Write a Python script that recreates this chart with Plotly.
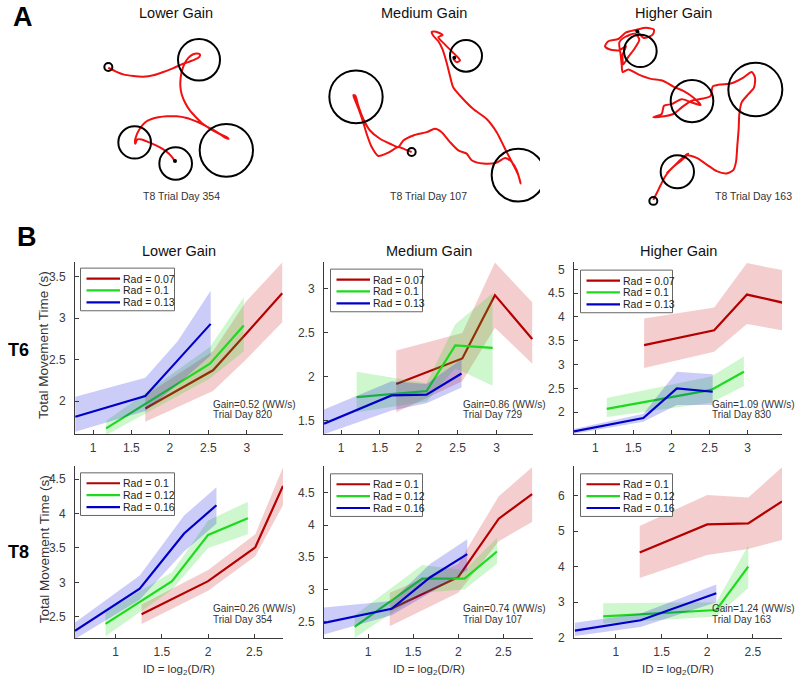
import plotly.graph_objects as go

W, H = 800, 687
def fx(p): return p / W
def fy(p): return 1 - p / H

# ---------------- Panel A data (workspace units) ----------------
a_titles = ["Lower Gain", "Medium Gain", "Higher Gain"]
a_days = ["T8 Trial Day 354", "T8 Trial Day 107", "T8 Trial Day 163"]

a1_cx = [325, 597, 679, 404, 527]
a1_cy = [203, 181, 455, 431, 495]
a1_r = [12, 63, 80, 49, 49]
a1_dot = (525, 487)
a1_tx = [325, 345, 370, 400, 430, 460, 490, 520, 545, 565, 585, 598, 600, 592, 578, 565, 555, 547, 542, 541, 545, 555, 570, 588, 605, 625, 645, 665, 682, 686, 678, 660, 640, 615, 590, 560, 530, 500, 475, 455, 440, 428, 418, 410, 405, 406, 412, 425, 445, 468, 490, 507, 518, 524]
a1_ty = [205, 215, 225, 230, 232, 228, 218, 206, 195, 188, 180, 172, 165, 162, 165, 175, 190, 210, 235, 260, 285, 310, 335, 355, 372, 386, 398, 408, 416, 420, 418, 406, 393, 380, 368, 357, 352, 352, 355, 360, 367, 378, 392, 408, 425, 435, 422, 422, 430, 440, 452, 465, 478, 488]

a2_cx = [425, 258, 588, 745]
a2_cy = [460, 293, 169, 530]
a2_r = [12, 80, 48, 80]
a2_dot = (553, 175)
a2_tx = [425, 405, 385, 355, 325, 305, 290, 278, 266, 256, 250, 256, 265, 280, 300, 330, 360, 385, 400, 430, 470, 495, 515, 540, 565, 590, 605, 640, 680, 705, 725, 740, 752, 745, 728, 705, 680, 650, 610, 575, 550, 540, 530, 518, 505, 490, 485, 498, 518, 505, 525, 548, 565, 570, 560, 550]
a2_ty = [460, 452, 445, 462, 472, 445, 405, 365, 330, 305, 288, 290, 320, 360, 395, 420, 435, 445, 425, 410, 400, 390, 400, 430, 455, 465, 485, 495, 492, 478, 490, 515, 555, 530, 495, 450, 400, 360, 330, 295, 265, 230, 190, 150, 125, 108, 97, 96, 106, 112, 135, 158, 175, 183, 188, 178]

a3_cx = [340, 301, 456, 646, 412]
a3_cy = [608, 154, 306, 271, 520]
a3_r = [12, 49, 64, 81, 50]
a3_dot = (292, 95)
a3_tx = [340, 350, 362, 375, 390, 410, 430, 445, 425, 400, 380, 395, 415, 440, 470, 500, 530, 560, 580, 588, 592, 596, 598, 605, 625, 642, 645, 635, 610, 575, 540, 518, 512, 490, 455, 425, 400, 372, 340, 365, 372, 395, 425, 455, 482, 460, 430, 400, 370, 330, 295, 265, 248, 245, 242, 238, 255, 285, 298, 285, 265, 250, 248, 258, 238, 210, 195, 205, 235, 258, 290, 318, 342, 338, 312, 298, 292]
a3_ty = [605, 585, 560, 535, 515, 495, 475, 465, 485, 505, 525, 510, 490, 470, 478, 498, 518, 525, 515, 490, 440, 390, 345, 310, 285, 265, 235, 218, 235, 252, 256, 262, 290, 298, 305, 325, 345, 352, 355, 345, 320, 315, 300, 310, 318, 295, 275, 262, 245, 238, 225, 210, 218, 195, 165, 128, 112, 102, 120, 145, 172, 195, 165, 140, 152, 150, 140, 125, 118, 98, 90, 84, 90, 105, 115, 102, 95]

# ---------------- Panel B data ----------------
row_names = ["T6", "T8"]
col_titles = ["Lower Gain", "Medium Gain", "Higher Gain"]
rad_labels = [["Rad = 0.07", "Rad = 0.1", "Rad = 0.13"],
              ["Rad = 0.1", "Rad = 0.12", "Rad = 0.16"]]
gains = [[0.52, 0.86, 1.09], [0.26, 0.74, 1.24]]
days = [[820, 729, 830], [354, 107, 163]]

# T6 Lower
t6l_red_x = [1.68, 2.56, 2.99, 3.46]; t6l_red_y = [1.91, 2.37, 2.81, 3.30]
t6l_red_lo = [1.75, 2.12, 2.50, 2.95]; t6l_red_hi = [2.07, 2.60, 3.20, 3.67]
t6l_grn_x = [1.17, 2.52, 2.96]; t6l_grn_y = [1.67, 2.45, 2.91]
t6l_grn_lo = [1.59, 2.27, 2.60]; t6l_grn_hi = [1.76, 2.65, 3.25]
t6l_blu_x = [0.77, 1.68, 2.10, 2.53]; t6l_blu_y = [1.81, 2.06, 2.49, 2.93]
t6l_blu_lo = [1.63, 1.88, 2.20, 2.55]; t6l_blu_hi = [2.05, 2.28, 2.72, 3.33]
# T6 Medium
t6m_red_x = [1.71, 2.56, 2.98, 3.46]; t6m_red_y = [1.92, 2.21, 2.93, 2.43]
t6m_red_lo = [1.60, 1.95, 2.56, 2.15]; t6m_red_hi = [2.30, 2.50, 3.30, 2.85]
t6m_grn_x = [1.20, 2.10, 2.47, 2.95]; t6m_grn_y = [1.77, 1.84, 2.36, 2.33]
t6m_grn_lo = [1.60, 1.72, 2.10, 1.90]; t6m_grn_hi = [2.06, 1.93, 2.60, 2.95]
t6m_blu_x = [0.78, 1.65, 2.10, 2.55]; t6m_blu_y = [1.47, 1.79, 1.80, 2.04]
t6m_blu_lo = [1.35, 1.62, 1.70, 1.88]; t6m_blu_hi = [1.63, 1.95, 1.92, 2.20]
# T6 Higher
t6h_red_x = [1.64, 2.56, 2.99, 3.46]; t6h_red_y = [3.41, 3.72, 4.47, 4.30]
t6h_red_lo = [2.93, 3.27, 3.85, 3.72]; t6h_red_hi = [3.97, 4.20, 5.13, 4.98]
t6h_grn_x = [1.15, 2.52, 2.95]; t6h_grn_y = [2.07, 2.47, 2.85]
t6h_grn_lo = [1.90, 2.20, 2.55]; t6h_grn_hi = [2.30, 2.75, 3.17]
t6h_blu_x = [0.72, 1.63, 2.07, 2.54]; t6h_blu_y = [1.60, 1.88, 2.50, 2.43]
t6h_blu_lo = [1.55, 1.80, 2.15, 2.15]; t6h_blu_hi = [1.65, 1.97, 2.85, 2.80]
# T8 Lower
t8l_red_x = [1.28, 2.00, 2.51, 2.81]; t8l_red_y = [2.54, 3.02, 3.51, 4.40]
t8l_red_lo = [2.40, 2.88, 3.38, 4.12]; t8l_red_hi = [2.68, 3.18, 3.70, 4.67]
t8l_grn_x = [0.89, 1.61, 2.00, 2.43]; t8l_grn_y = [2.40, 3.02, 3.69, 3.93]
t8l_grn_lo = [2.22, 2.90, 3.50, 3.70]; t8l_grn_hi = [2.58, 3.15, 3.90, 4.17]
t8l_blu_x = [0.56, 1.26, 1.74, 2.09]; t8l_blu_y = [2.30, 2.91, 3.71, 4.12]
t8l_blu_lo = [2.18, 2.75, 3.45, 3.85]; t8l_blu_hi = [2.42, 3.10, 3.97, 4.38]
# T8 Medium
t8m_red_x = [1.24, 2.00, 2.45, 2.82]; t8m_red_y = [2.69, 3.19, 4.10, 4.48]
t8m_red_lo = [2.43, 2.95, 3.75, 4.05]; t8m_red_hi = [2.95, 3.40, 4.45, 4.90]
t8m_grn_x = [0.85, 1.60, 2.07, 2.43]; t8m_grn_y = [2.42, 3.17, 3.17, 3.59]
t8m_grn_lo = [2.25, 2.95, 3.00, 3.40]; t8m_grn_hi = [2.60, 3.38, 3.30, 3.80]
t8m_blu_x = [0.51, 1.26, 1.69, 2.10]; t8m_blu_y = [2.48, 2.70, 3.19, 3.55]
t8m_blu_lo = [2.30, 2.60, 2.95, 3.30]; t8m_blu_hi = [2.72, 2.82, 3.40, 3.78]
# T8 Higher
t8h_red_x = [1.26, 2.00, 2.45, 2.82]; t8h_red_y = [4.40, 5.19, 5.22, 5.84]
t8h_red_lo = [3.68, 4.33, 4.50, 4.75]; t8h_red_hi = [5.15, 6.02, 5.95, 6.80]
t8h_grn_x = [0.86, 2.10, 2.45]; t8h_grn_y = [2.60, 2.78, 4.00]
t8h_grn_lo = [2.40, 2.60, 3.40]; t8h_grn_hi = [2.97, 3.00, 4.60]
t8h_blu_x = [0.55, 1.27, 2.10]; t8h_blu_y = [2.20, 2.49, 3.25]
t8h_blu_lo = [2.05, 2.30, 3.00]; t8h_blu_hi = [2.42, 2.68, 3.50]

panels = [
    [[(t6l_red_x, t6l_red_y, t6l_red_lo, t6l_red_hi), (t6l_grn_x, t6l_grn_y, t6l_grn_lo, t6l_grn_hi), (t6l_blu_x, t6l_blu_y, t6l_blu_lo, t6l_blu_hi)],
     [(t6m_red_x, t6m_red_y, t6m_red_lo, t6m_red_hi), (t6m_grn_x, t6m_grn_y, t6m_grn_lo, t6m_grn_hi), (t6m_blu_x, t6m_blu_y, t6m_blu_lo, t6m_blu_hi)],
     [(t6h_red_x, t6h_red_y, t6h_red_lo, t6h_red_hi), (t6h_grn_x, t6h_grn_y, t6h_grn_lo, t6h_grn_hi), (t6h_blu_x, t6h_blu_y, t6h_blu_lo, t6h_blu_hi)]],
    [[(t8l_red_x, t8l_red_y, t8l_red_lo, t8l_red_hi), (t8l_grn_x, t8l_grn_y, t8l_grn_lo, t8l_grn_hi), (t8l_blu_x, t8l_blu_y, t8l_blu_lo, t8l_blu_hi)],
     [(t8m_red_x, t8m_red_y, t8m_red_lo, t8m_red_hi), (t8m_grn_x, t8m_grn_y, t8m_grn_lo, t8m_grn_hi), (t8m_blu_x, t8m_blu_y, t8m_blu_lo, t8m_blu_hi)],
     [(t8h_red_x, t8h_red_y, t8h_red_lo, t8h_red_hi), (t8h_grn_x, t8h_grn_y, t8h_grn_lo, t8h_grn_hi), (t8h_blu_x, t8h_blu_y, t8h_blu_lo, t8h_blu_hi)]],
]

x_ranges = [[[0.766, 3.47], [0.78, 3.47], [0.72, 3.45]],
            [[0.56, 2.81], [0.51, 2.83], [0.54, 2.82]]]
y_ranges = [[[1.60, 3.68], [1.35, 3.31], [1.54, 5.16]],
            [[2.19, 4.69], [2.24, 4.92], [1.98, 6.84]]]
x_ticks = [[1, 1.5, 2, 2.5, 3], [1, 1.5, 2, 2.5]]
y_ticks = [[[2, 2.5, 3, 3.5], [1.5, 2, 2.5, 3], [2, 2.5, 3, 3.5, 4, 4.5, 5]],
           [[2.5, 3, 3.5, 4, 4.5], [2.5, 3, 3.5, 4, 4.5], [2, 3, 4, 5, 6]]]

# ---------------- styling ----------------
FONT = "Liberation Sans, Arial, sans-serif"
AX = "#3a3a3a"
line_cols = ["#B40000", "#1EDA1E", "#0000C8"]
band_cols = ["rgba(205,30,30,0.22)", "rgba(30,220,30,0.22)", "rgba(0,0,220,0.2)"]
col_px = [(75, 283), (324, 533), (574, 782)]
row_px = [(264, 438), (470, 644)]
leg_pos = [[(80.5, 270.5), (330.5, 271.5), (580.5, 272.5)], [(80.5, 477), (330.5, 478), (580.5, 478)]]
leg_w = [94, 92, 92]
leg_h = 43

fig = go.Figure()
layout = dict(width=W, height=H, margin=dict(l=0, r=0, t=0, b=0),
              plot_bgcolor="white", paper_bgcolor="white",
              font=dict(family=FONT, color=AX), showlegend=False)
shapes = []
annotations = []

def ann(text, x, y, size, color="#333", xanchor="center", yanchor="middle", **kw):
    annotations.append(dict(text=text, x=fx(x), y=fy(y), xref="paper", yref="paper",
                            xanchor=xanchor, yanchor=yanchor, showarrow=False,
                            font=dict(size=size, color=color, family=FONT), **kw))

# ---------------- Panel A ----------------
a_px = [(0, 270), (270, 540), (540, 800)]
a_data = [(a1_cx, a1_cy, a1_r, a1_dot, a1_tx, a1_ty),
          (a2_cx, a2_cy, a2_r, a2_dot, a2_tx, a2_ty),
          (a3_cx, a3_cy, a3_r, a3_dot, a3_tx, a3_ty)]
for i, (cx, cy, rr, dot, tx, ty) in enumerate(a_data):
    k = i + 1
    xa, ya = f"x{k}", f"y{k}"
    l, r = a_px[i]
    layout[f"xaxis{k}"] = dict(domain=[fx(l), fx(r)], range=[0, 3 * (r - l)], visible=False, fixedrange=True)
    layout[f"yaxis{k}"] = dict(domain=[fy(215), fy(0)], range=[645, 0], visible=False, fixedrange=True)
    fig.add_trace(go.Scatter(x=tx, y=ty, xaxis=xa, yaxis=ya, mode="lines",
                             line=dict(color="#F01010", width=2, shape="spline", smoothing=0.7),
                             showlegend=False, hoverinfo="skip"))
    fig.add_trace(go.Scatter(x=[dot[0]], y=[dot[1]], xaxis=xa, yaxis=ya, mode="markers",
                             marker=dict(color="black", size=4), showlegend=False, hoverinfo="skip"))
    for x0, y0, r0 in zip(cx, cy, rr):
        shapes.append(dict(type="circle", xref=xa, yref=ya, x0=x0 - r0, x1=x0 + r0,
                           y0=y0 - r0, y1=y0 + r0, line=dict(color="black", width=2)))
ann("<b>A</b>", 23, 17, 27, color="black")
a_title_x = [176, 424, 673]
a_day_x = [181, 428, 753]
for i in range(3):
    ann(a_titles[i], a_title_x[i], 13, 14.5, color="#111")
    ann(a_days[i], a_day_x[i], 197.5, 10.5, color="#333")

# ---------------- Panel B ----------------
k = 3
for ri in range(2):
    for ci in range(3):
        k += 1
        xa, ya = f"x{k}", f"y{k}"
        l, r = col_px[ci]
        t, b = row_px[ri]
        layout[f"xaxis{k}"] = dict(domain=[fx(l), fx(r)], range=x_ranges[ri][ci], anchor=ya,
                                   showline=True, linecolor=AX, linewidth=1, ticks="inside", ticklen=4,
                                   tickcolor=AX, showgrid=False, zeroline=False, ticklabelstandoff=2,
                                   tickvals=x_ticks[ri], ticktext=[f"{v:g}" for v in x_ticks[ri]],
                                   tickfont=dict(size=12, color=AX), fixedrange=True)
        layout[f"yaxis{k}"] = dict(domain=[fy(b), fy(t)], range=y_ranges[ri][ci], anchor=xa,
                                   showline=True, linecolor=AX, linewidth=1, ticks="inside", ticklen=4,
                                   tickcolor=AX, showgrid=False, zeroline=False, ticklabelstandoff=6,
                                   tickvals=y_ticks[ri][ci], ticktext=[f"{v:g}" for v in y_ticks[ri][ci]],
                                   tickfont=dict(size=12, color=AX), fixedrange=True)
        for si, (sx, sy, slo, shi) in enumerate(panels[ri][ci]):
            fig.add_trace(go.Scatter(x=list(sx) + list(sx)[::-1], y=list(shi) + list(slo)[::-1],
                                     xaxis=xa, yaxis=ya, fill="toself", fillcolor=band_cols[si],
                                     line=dict(width=0), mode="lines", showlegend=False, hoverinfo="skip"))
            fig.add_trace(go.Scatter(x=sx, y=sy, xaxis=xa, yaxis=ya, mode="lines",
                                     line=dict(color=line_cols[si], width=2.2),
                                     name=rad_labels[ri][si], showlegend=False))
        # legend box (drawn manually to match compact MATLAB legend)
        lx, ly = leg_pos[ri][ci]
        lw = leg_w[ci]
        shapes.append(dict(type="rect", xref="paper", yref="paper", x0=fx(lx), x1=fx(lx + lw),
                           y0=fy(ly + leg_h), y1=fy(ly), line=dict(color="#666", width=1),
                           fillcolor="white", layer="above"))
        for si in range(3):
            yy = ly + 10.5 + 12 * si
            shapes.append(dict(type="line", xref="paper", yref="paper", x0=fx(lx + 6), x1=fx(lx + 39.5),
                               y0=fy(yy), y1=fy(yy), line=dict(color=line_cols[si], width=2.2),
                               layer="above"))
            ann(rad_labels[ri][si], lx + 40.5, yy, 10.5, color="#222", xanchor="left")
        gx = l + (r - l) * 0.655
        ann(f"Gain={gains[ri][ci]:.2f} (WW/s)", gx, b - 30, 10, xanchor="left")
        ann(f"Trial Day {days[ri][ci]}", gx, b - 19.5, 10, xanchor="left")
        if ri == 0:
            ann(col_titles[ci], (l + r) / 2, 253, 14.5, color="#111")
        else:
            ann("ID = log<sub>2</sub>(D/R)", (l + r) / 2, 685, 11.5, yanchor="bottom")
        if ci == 0:
            ann("Total Movement Time (s)", 44, (t + b) / 2 - 3, 13.5, textangle=-90)
            ann(f"<b>{row_names[ri]}</b>", 18, 353 if ri == 0 else 557, 18, color="black")

ann("<b>B</b>", 27, 239, 27, color="black")

layout["shapes"] = shapes
layout["annotations"] = annotations
fig.update_layout(**layout)
fig.write_html("out.html", config={"displayModeBar": False},
               post_script="document.body.style.margin='0';")
